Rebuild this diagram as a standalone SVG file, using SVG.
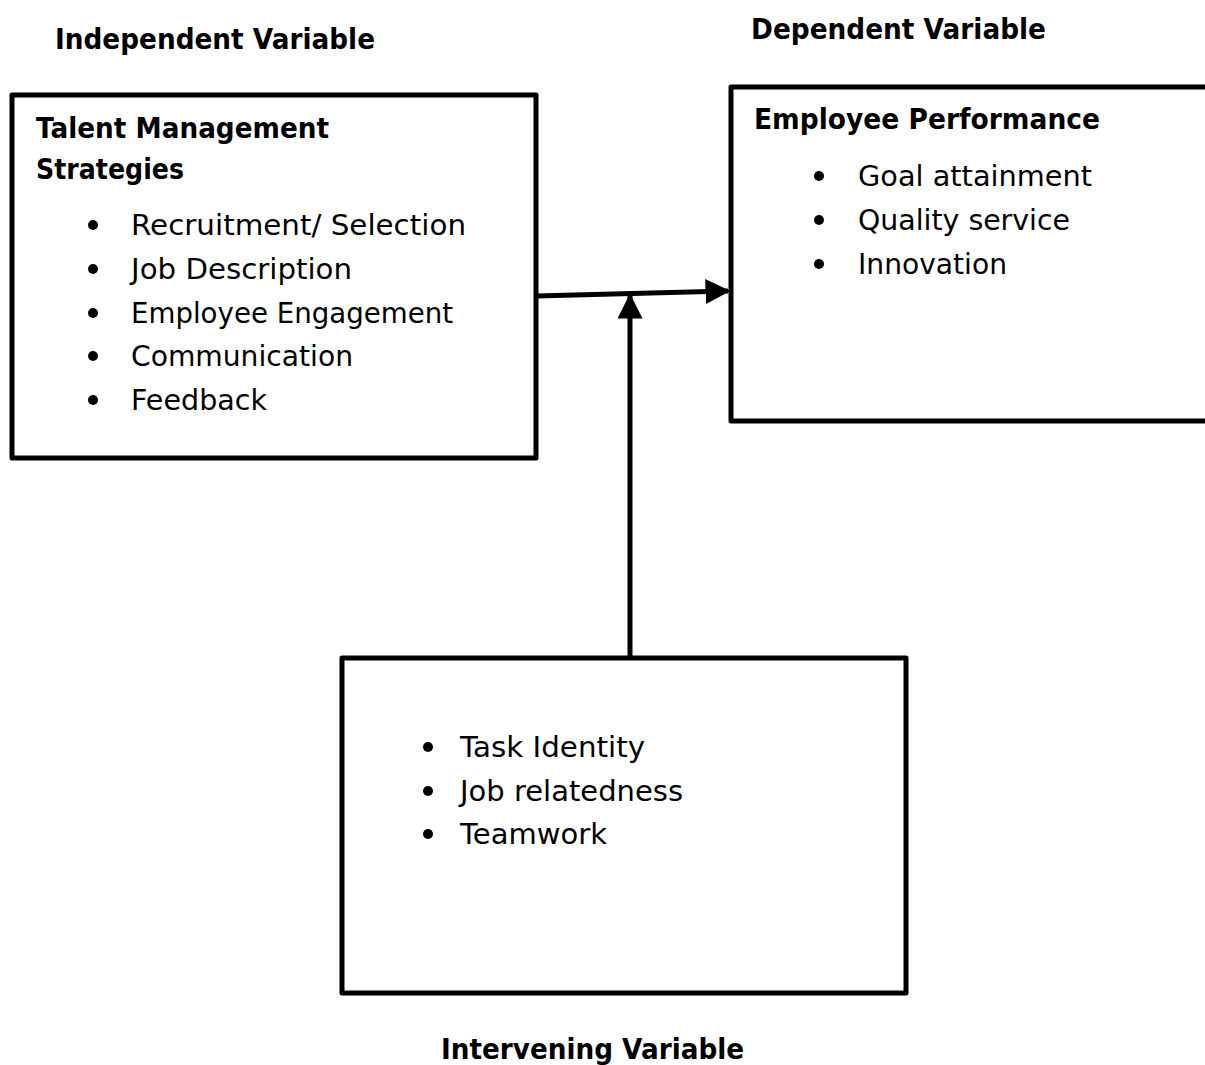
<svg xmlns="http://www.w3.org/2000/svg" width="1205" height="1065" viewBox="0 0 1205 1065">
<style>
.box{fill:#fff;stroke:#000;stroke-width:5;stroke-linejoin:round}
.t{font-family:"DejaVu Sans","Liberation Sans",sans-serif;font-size:29px;fill:#000}
.b{font-weight:bold;font-size:28px}
.c{fill:none;stroke:#000;stroke-width:5}
</style>
<defs>
<marker id="ah" markerWidth="5" markerHeight="5" refX="4.5" refY="2.5" orient="auto" markerUnits="strokeWidth">
<path d="M0,0 L5,2.5 L0,5 Z" fill="#000"/>
</marker>
</defs>
<rect width="1205" height="1065" fill="#fff"/>
<text class="t b" x="55" y="49" textLength="320" lengthAdjust="spacingAndGlyphs">Independent Variable</text>
<text class="t b" x="751" y="39" textLength="295" lengthAdjust="spacingAndGlyphs">Dependent Variable</text>
<text class="t b" x="441" y="1059" textLength="303" lengthAdjust="spacingAndGlyphs">Intervening Variable</text>
<g id="connectors">
<line class="c" x1="536" y1="296" x2="728" y2="291" marker-end="url(#ah)"/>
<line class="c" x1="630" y1="658" x2="630" y2="296" marker-end="url(#ah)"/>
</g>
<g id="talent">
<rect class="box" x="12" y="95" width="524" height="363"/>
<text class="t b" x="36" y="138" textLength="293" lengthAdjust="spacingAndGlyphs">Talent Management</text>
<text class="t b" x="36" y="179" textLength="148" lengthAdjust="spacingAndGlyphs">Strategies</text>
<g class="t">
<circle cx="93" cy="225" r="5"/><text x="131" y="235" textLength="335" lengthAdjust="spacingAndGlyphs">Recruitment/ Selection</text>
<circle cx="93" cy="269" r="5"/><text x="131" y="279" textLength="221" lengthAdjust="spacingAndGlyphs">Job Description</text>
<circle cx="93" cy="313" r="5"/><text x="131" y="323" textLength="322" lengthAdjust="spacingAndGlyphs">Employee Engagement</text>
<circle cx="93" cy="356" r="5"/><text x="131" y="366" textLength="222" lengthAdjust="spacingAndGlyphs">Communication</text>
<circle cx="93" cy="400" r="5"/><text x="131" y="410" textLength="136" lengthAdjust="spacingAndGlyphs">Feedback</text>
</g>
</g>
<g id="performance">
<rect class="box" x="731" y="87" width="490" height="334"/>
<text class="t b" x="754" y="129" textLength="346" lengthAdjust="spacingAndGlyphs">Employee Performance</text>
<g class="t">
<circle cx="819" cy="176" r="5"/><text x="858" y="186" textLength="234" lengthAdjust="spacingAndGlyphs">Goal attainment</text>
<circle cx="819" cy="220" r="5"/><text x="858" y="230" textLength="212" lengthAdjust="spacingAndGlyphs">Quality service</text>
<circle cx="819" cy="264" r="5"/><text x="858" y="274" textLength="149" lengthAdjust="spacingAndGlyphs">Innovation</text>
</g>
</g>
<g id="intervening">
<rect class="box" x="342" y="658" width="564" height="335"/>
<g class="t">
<circle cx="428" cy="747" r="5"/><text x="460" y="757" textLength="185" lengthAdjust="spacingAndGlyphs">Task Identity</text>
<circle cx="428" cy="791" r="5"/><text x="460" y="801" textLength="223" lengthAdjust="spacingAndGlyphs">Job relatedness</text>
<circle cx="428" cy="834" r="5"/><text x="460" y="844" textLength="147" lengthAdjust="spacingAndGlyphs">Teamwork</text>
</g>
</g>
</svg>
